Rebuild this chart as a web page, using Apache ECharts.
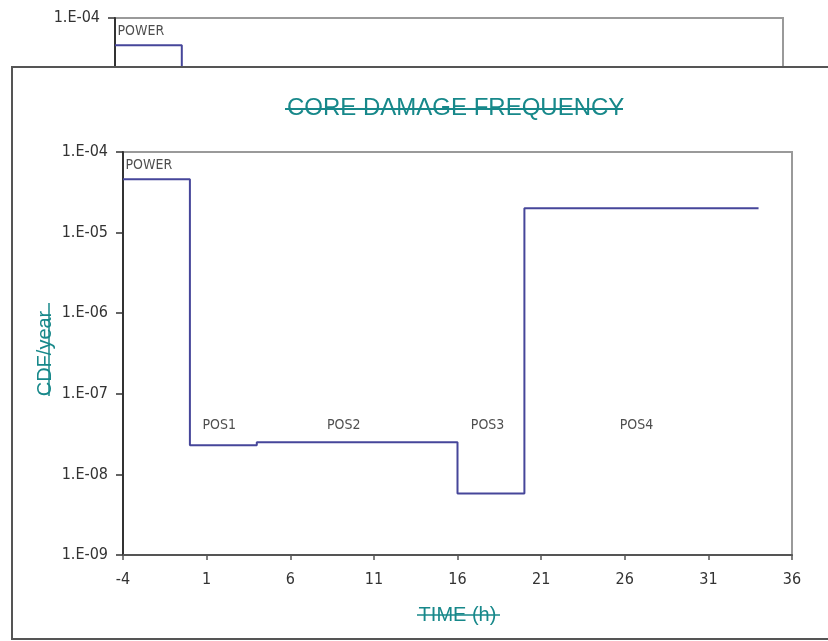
<!DOCTYPE html>
<html>
<head>
<meta charset="utf-8">
<script src="https://cdn.jsdelivr.net/npm/echarts@6/dist/echarts.min.js"></script>
<style>html,body{margin:0;padding:0;background:#fff;}#c{width:828px;height:641px;}</style>
</head>
<body>
<div id="c"></div>
<script>
// ---- data ----
const times = [-4, 0, 4, 16, 20, 34];
const cdf = [4.6e-5, 2.3e-8, 2.5e-8, 5.8e-9, 2.0e-5, 2.0e-5];
const stateNames = ['POWER', 'POS1', 'POS2', 'POS3', 'POS4'];
const stateX = [-3.85, 1.75, 9.2, 17.8, 26.7];
const stateY = [6.9e-5, 4.1e-8, 4.1e-8, 4.1e-8, 4.1e-8];
const xTicks = { min: -4, max: 36, interval: 5 };
const yRange = { min: 1e-9, max: 1e-4 };
const titleText = 'CORE DAMAGE FREQUENCY';
const xName = 'TIME (h)';
const yName = 'CDF/year';

const TEAL = '#17888a';
const TICKFONT = "'DejaVu Sans Condensed', 'DejaVu Sans', sans-serif";
const NAMEFONT = "'Liberation Sans', Arial, sans-serif";

const lineData = times.map((t, i) => [t, cdf[i]]);
const labelData = stateNames.map((n, i) => ({
  name: n, value: [stateX[i], stateY[i]],
  label: { align: i === 0 ? 'left' : 'center' }
}));
const yFmt = v => {
  const e = Math.round(Math.log10(v));
  return '1.E-' + String(-e).padStart(2, '0');
};

function makeAxes(gridIndex, z, withNames) {
  const x = {
    type: 'value', gridIndex, z,
    min: xTicks.min, max: xTicks.max, interval: xTicks.interval,
    axisLine: { onZero: false, lineStyle: { color: '#555', width: 2 } },
    axisTick: { length: 5, lineStyle: { color: '#555', width: 1.5 } },
    axisLabel: { color: '#333', fontSize: 16, fontFamily: TICKFONT, margin: 17 },
    splitLine: { show: false }
  };
  const y = {
    type: 'log', logBase: 10, gridIndex, z,
    min: yRange.min, max: yRange.max,
    axisLine: { onZero: false, lineStyle: { color: '#333', width: 2 } },
    axisTick: { length: 7, lineStyle: { color: '#333', width: 1.5 } },
    axisLabel: { color: '#333', fontSize: 16, fontFamily: TICKFONT, margin: 15, formatter: yFmt },
    splitLine: { show: false },
    minorTick: { show: false }
  };
  if (withNames) {
    x.name = xName; x.nameLocation = 'middle'; x.nameGap = 50; x.nameMoveOverlap = false;
    x.nameTextStyle = { color: TEAL, fontSize: 20, fontFamily: NAMEFONT };
    y.name = yName; y.nameLocation = 'middle'; y.nameGap = 68; y.nameMoveOverlap = false;
    y.nameTextStyle = { color: TEAL, fontSize: 20, fontFamily: NAMEFONT };
  }
  return [x, y];
}

const [xMain, yMain] = makeAxes(0, 6, true);
const [xBack, yBack] = makeAxes(1, 1, false);

function makeSeries(idx, z) {
  return [
    {
      type: 'line', xAxisIndex: idx, yAxisIndex: idx, z,
      data: lineData, step: 'end', symbol: 'none',
      lineStyle: { color: '#46469a', width: 2 }
    },
    {
      type: 'scatter', xAxisIndex: idx, yAxisIndex: idx, z,
      data: labelData, symbolSize: 0, silent: true,
      label: {
        show: true, position: 'inside', formatter: p => p.name,
        color: '#222', fontSize: 14, fontFamily: TICKFONT
      }
    }
  ];
}

const chart = echarts.init(document.getElementById('c'), null, { renderer: 'canvas' });
chart.setOption({
  animation: false,
  backgroundColor: '#fff',
  title: {
    text: titleText, left: 282, top: 91, z: 8,
    textStyle: { color: TEAL, fontSize: 24, fontWeight: 'normal', fontFamily: NAMEFONT }
  },
  grid: [
    { left: 123, right: 36, top: 152, bottom: 86, show: true, borderColor: '#9a9a9a', borderWidth: 2, z: 5 },
    { left: 115, top: 18, width: 668, height: 403, show: true, borderColor: '#9a9a9a', borderWidth: 2, z: 0 }
  ],
  xAxis: [xMain, xBack],
  yAxis: [yMain, yBack],
  series: [...makeSeries(0, 7), ...makeSeries(1, 1)],
  graphic: {
    elements: [
      { type: 'rect', z: 3, shape: { x: 12, y: 67, width: 830, height: 572 },
        style: { fill: '#fff', stroke: '#555', lineWidth: 2 } },
      { type: 'line', z: 10, shape: { x1: 285, y1: 109, x2: 623, y2: 109 }, style: { stroke: TEAL, lineWidth: 2 } },
      { type: 'line', z: 10, shape: { x1: 417, y1: 615, x2: 500, y2: 615 }, style: { stroke: TEAL, lineWidth: 1.5 } },
      { type: 'line', z: 10, shape: { x1: 49, y1: 303, x2: 49, y2: 396 }, style: { stroke: TEAL, lineWidth: 1.5 } }
    ]
  }
});
</script>
</body>
</html>
